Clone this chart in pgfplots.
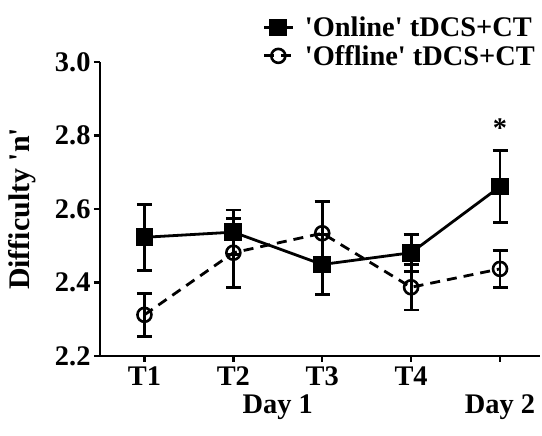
\documentclass[border=0pt]{standalone}
\usepackage{pgfplots}
\pgfplotsset{compat=1.18}
\usepackage{fontspec}
\setmainfont{Liberation Serif}
\begin{document}
\begin{tikzpicture}[font=\fontsize{28.5}{33}\selectfont\bfseries]
\begin{axis}[
  scale only axis, width=440bp, height=294bp,
  xmin=0.5, xmax=5.45, ymin=2.2, ymax=3.0,
  axis lines=left, axis line style={line width=2.8bp, -},
  ytick={2.2,2.4,2.6,2.8,3.0},
  yticklabel style={/pgf/number format/.cd, fixed, fixed zerofill, precision=1, assume math mode=true},
  xtick={1,2,3,4,5}, xticklabels={T1,T2,T3,T4,{}},
  xticklabel style={yshift=-1bp},
  tick style={line width=2.5bp, black}, tick align=outside, major tick length=6bp,
  ylabel={Difficulty \textquotesingle n\textquotesingle},
  ylabel style={font=\fontsize{30}{34}\selectfont\bfseries, at={(axis description cs:-0.177,0.5)}, anchor=center},
  clip=false,
  legend style={at={(1.0,0.97)}, anchor=south east, draw=none, fill=none, row sep=3bp, column sep=9bp, font=\fontsize{28.5}{33}\selectfont\bfseries},
  legend cell align=left,
  legend image code/.code={\draw[mark repeat=2,mark phase=2,#1] plot coordinates {(0cm,0cm) (0.5cm,0cm) (1cm,0cm)};},
]
\addplot[black, line width=2.8bp, mark=square*, mark size=7.5bp, mark options={solid},
  error bars/.cd, y dir=both, y explicit,
  error bar style={line width=2.8bp, solid},
  error mark options={rotate=90, line width=2.8bp, mark size=7.5bp, solid}]
  coordinates {(1,2.523) +- (0,0.09) (2,2.537) +- (0,0.06) (3,2.449) +- (0,0.081) (4,2.481) +- (0,0.05) (5,2.661) +- (0,0.098)};
\addlegendentry{\textquotesingle Online\textquotesingle{} tDCS+CT}
\addplot[black, line width=2.8bp, dash pattern=on 10bp off 7bp, mark=o, mark size=7bp, mark options={solid, line width=2.6bp},
  error bars/.cd, y dir=both, y explicit,
  error bar style={line width=2.8bp, solid},
  error mark options={rotate=90, line width=2.8bp, mark size=7.5bp, solid}]
  coordinates {(1,2.312) +- (0,0.058) (2,2.481) +- (0,0.094) (3,2.534) +- (0,0.086) (4,2.387) +- (0,0.062) (5,2.437) +- (0,0.05)};
\addlegendentry{\textquotesingle Offline\textquotesingle{} tDCS+CT}
\node at (axis cs:2.5,2.2) [yshift=-51bp] {Day 1};
\node at (axis cs:5,2.2) [yshift=-51bp] {Day 2};
\node at (axis cs:5,2.82) {*};
\end{axis}
\path (current axis.south west) ++(-100bp,-80bp) rectangle ([shift={(2bp,62bp)}]current axis.north east);
\end{tikzpicture}
\end{document}
